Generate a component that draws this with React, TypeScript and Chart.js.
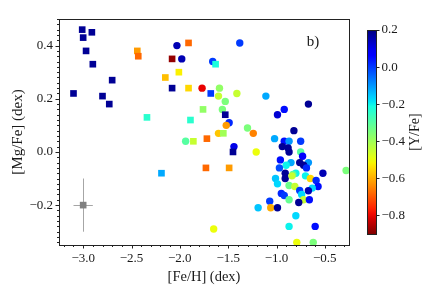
import React, { useEffect, useRef } from 'react';
import { Chart, registerables } from 'chart.js';
Chart.register(...registerables);

// ---- data: squares (one sample) ----
const squareFeH = [-3.01, -2.91, -3.0, -2.97, -2.9, -2.7, -3.1, -2.8, -2.73, -2.44, -2.43, -1.91, -2.08, -1.63, -2.01, -2.15, -2.08, -1.91, -1.68, -1.76, -1.53, -2.34, -1.89, -1.55, -1.72, -1.86, -1.45, -1.73, -1.49, -2.19];
const squareMgFe = [0.46, 0.45, 0.43, 0.38, 0.33, 0.27, 0.22, 0.21, 0.18, 0.38, 0.36, 0.41, 0.35, 0.33, 0.3, 0.28, 0.24, 0.24, 0.22, 0.16, 0.14, 0.13, 0.12, 0.07, 0.05, 0.04, 0.0, -0.06, -0.06, -0.08];
const squareYFe = [0.18, 0.18, 0.18, 0.18, 0.18, 0.18, 0.18, 0.18, 0.18, -0.62, -0.68, -0.68, -0.88, -0.22, -0.52, -0.58, 0.18, -0.55, 0.0, -0.38, 0.18, -0.24, -0.24, -0.4, -0.68, -0.45, 0.18, -0.68, -0.62, -0.12];

// ---- data: circles (other sample) ----
const circleFeH = [-2.03, -1.98, -1.66, -1.38, -1.77, -1.59, -1.6, -1.53, -1.41, -1.56, -1.49, -1.52, -1.6, -1.3, -1.94, -1.44, -1.65, -1.11, -1.24, -0.92, -0.99, -0.67, -0.82, -1.21, -1.02, -0.92, -0.87, -0.75, -0.94, -0.88, -0.87, -0.75, -0.73, -0.96, -0.85, -0.76, -0.67, -0.72, -0.9, -0.91, -0.97, -0.69, -0.91, -0.8, -0.83, -0.84, -0.7, -0.52, -0.65, -1.01, -0.99, -0.59, -0.87, -0.81, -0.57, -0.63, -0.76, -0.67, -0.95, -0.92, -0.74, -0.72, -0.66, -0.87, -0.77, -1.07, -1.19, -1.06, -0.99, -0.8, -0.87, -0.6, -0.79, -0.62, -0.28];
const circleMgFe = [0.4, 0.35, 0.34, 0.41, 0.24, 0.24, 0.21, 0.19, 0.22, 0.16, 0.11, 0.1, 0.07, 0.09, 0.04, 0.02, -0.29, 0.21, 0.07, 0.16, 0.14, 0.18, 0.08, 0.0, 0.05, 0.04, 0.04, 0.04, 0.02, 0.015, 0.0, 0.0, -0.016, -0.03, -0.04, -0.04, -0.04, -0.05, -0.05, -0.08, -0.06, -0.06, -0.1, -0.08, -0.085, -0.09, -0.09, -0.08, -0.1, -0.1, -0.12, -0.107, -0.126, -0.13, -0.13, -0.136, -0.145, -0.146, -0.156, -0.164, -0.16, -0.18, -0.18, -0.18, -0.19, -0.185, -0.21, -0.21, -0.21, -0.24, -0.28, -0.28, -0.34, -0.34, -0.07];
const circleYFe = [0.15, 0.15, 0.0, 0.0, -0.8, -0.38, -0.45, -0.35, -0.45, -0.35, 0.02, -0.62, -0.57, -0.35, -0.3, 0.1, -0.5, -0.12, -0.65, 0.05, 0.12, 0.18, 0.18, -0.5, -0.12, 0.05, -0.1, 0.0, 0.18, 0.18, 0.18, -0.3, 0.08, 0.05, -0.12, 0.18, -0.1, 0.18, -0.2, 0.18, -0.02, 0.02, 0.18, -0.2, -0.3, -0.45, -0.2, 0.15, -0.55, -0.15, -0.17, 0.02, -0.33, -0.45, 0.05, -0.17, 0.0, 0.15, 0.02, 0.0, -0.17, -0.45, 0.05, -0.32, 0.18, 0.0, -0.15, -0.6, 0.18, -0.17, -0.2, 0.05, -0.5, -0.35, -0.35];

// ---- typical error bar ----
const errFeH = [-3.0];
const errMgFe = [-0.2];
const errX = [0.1];
const errY = [0.1];

// ---- ticks ----
const xTicks = [-3.0, -2.5, -2.0, -1.5, -1.0, -0.5];
const yTicks = [-0.2, 0.0, 0.2, 0.4];
const cbTicks = [0.2, 0.0, -0.2, -0.4, -0.6, -0.8];
const cbMin = -0.9;
const cbMax = 0.2;

const FONT = "'Liberation Serif', 'DejaVu Serif', serif";
const TXT = '#1a1a1a';

const JR = [[0, 0], [0.35, 0], [0.66, 1], [0.89, 1], [1, 0.5]];
const JG = [[0, 0], [0.125, 0], [0.375, 1], [0.64, 1], [0.91, 0], [1, 0]];
const JB = [[0, 0.5], [0.11, 1], [0.34, 1], [0.65, 0], [1, 0]];
function seg(p: number[][], t: number) {
  for (let i = 1; i < p.length; i++) {
    if (t <= p[i][0]) {
      const [x0, y0] = p[i - 1];
      const [x1, y1] = p[i];
      return y0 + ((t - x0) / (x1 - x0)) * (y1 - y0);
    }
  }
  return p[p.length - 1][1];
}
function jet(t: number) {
  const c = Math.max(0, Math.min(1, t));
  const r = Math.round(seg(JR, c) * 255);
  const g = Math.round(seg(JG, c) * 255);
  const b = Math.round(seg(JB, c) * 255);
  return `rgb(${r},${g},${b})`;
}
// reversed jet: high [Y/Fe] -> dark blue, low -> dark red
function colorFor(v: number) {
  return jet((cbMax - v) / (cbMax - cbMin));
}
function fmt(v: number) {
  const s = Math.abs(v).toFixed(1);
  return v < -1e-9 ? '\u2212' + s : s;
}

const frameTicksPlugin = {
  id: 'frameTicks',
  afterDraw(chart: any) {
    const { ctx, chartArea: a } = chart;
    const xs = chart.scales.x;
    const ys = chart.scales.y;
    ctx.save();
    ctx.strokeStyle = '#222';
    ctx.lineWidth = 1;
    ctx.strokeRect(Math.round(a.left) + 0.5, Math.round(a.top) + 0.5, Math.round(a.right - a.left), Math.round(a.bottom - a.top));
    ctx.beginPath();
    // x ticks
    for (let v = -3.2; v <= -0.25 + 1e-9; v += 0.1) {
      const vv = Math.round(v * 10) / 10;
      const major = xTicks.some((t) => Math.abs(t - vv) < 1e-6);
      const px = Math.round(xs.getPixelForValue(vv)) + 0.5;
      ctx.moveTo(px, a.bottom);
      ctx.lineTo(px, a.bottom + (major ? 3.5 : 2));
    }
    // y ticks
    for (let k = -17; k <= 25; k++) {
      const vv = k * 0.02;
      if (vv < -0.35 || vv > 0.5) continue;
      const major = yTicks.some((t) => Math.abs(t - vv) < 1e-6);
      const py = Math.round(ys.getPixelForValue(vv)) + 0.5;
      ctx.moveTo(a.left, py);
      ctx.lineTo(a.left - (major ? 3.5 : 2), py);
    }
    ctx.stroke();

    ctx.fillStyle = TXT;
    ctx.textAlign = 'center';
    ctx.textBaseline = 'middle';
    ctx.font = `14.5px ${FONT}`;
    ctx.fillText('[Fe/H] (dex)', (a.left + a.right) / 2, 277);
    ctx.save();
    ctx.font = `15px ${FONT}`;
    ctx.translate(18, (a.top + a.bottom) / 2);
    ctx.rotate(-Math.PI / 2);
    ctx.fillText('[Mg/Fe] (dex)', 0, 0);
    ctx.restore();
    ctx.font = `15px ${FONT}`;
    ctx.fillText('b)', 313, 42);
    ctx.restore();
  },
};

const errorBarPlugin = {
  id: 'errBars',
  beforeDatasetsDraw(chart: any) {
    const { ctx } = chart;
    const xs = chart.scales.x;
    const ys = chart.scales.y;
    ctx.save();
    ctx.strokeStyle = '#a6a6a6';
    ctx.lineWidth = 1;
    ctx.beginPath();
    for (let i = 0; i < errFeH.length; i++) {
      const cx = xs.getPixelForValue(errFeH[i]);
      const cy = ys.getPixelForValue(errMgFe[i]);
      ctx.moveTo(xs.getPixelForValue(errFeH[i] - errX[i]), Math.round(cy) + 0.5);
      ctx.lineTo(xs.getPixelForValue(errFeH[i] + errX[i]), Math.round(cy) + 0.5);
      ctx.moveTo(Math.round(cx) + 0.5, ys.getPixelForValue(errMgFe[i] - errY[i]));
      ctx.lineTo(Math.round(cx) + 0.5, ys.getPixelForValue(errMgFe[i] + errY[i]));
    }
    ctx.stroke();
    ctx.restore();
  },
};

const gradientPlugin = {
  id: 'cbGradient',
  beforeDraw(chart: any) {
    const { ctx, chartArea: a } = chart;
    const g = ctx.createLinearGradient(0, a.top, 0, a.bottom);
    for (let i = 0; i <= 40; i++) {
      g.addColorStop(i / 40, jet(i / 40));
    }
    ctx.save();
    ctx.fillStyle = g;
    ctx.fillRect(a.left, a.top, a.right - a.left, a.bottom - a.top);
    ctx.restore();
  },
  afterDraw(chart: any) {
    const { ctx, chartArea: a } = chart;
    ctx.save();
    ctx.strokeStyle = '#222';
    ctx.lineWidth = 1;
    ctx.strokeRect(Math.round(a.left) + 0.5, Math.round(a.top) + 0.5, Math.round(a.right - a.left), Math.round(a.bottom - a.top));
    ctx.fillStyle = TXT;
    ctx.font = `14px ${FONT}`;
    ctx.textAlign = 'center';
    ctx.textBaseline = 'middle';
    ctx.translate(415, 132);
    ctx.rotate(-Math.PI / 2);
    ctx.fillText('[Y/Fe]', 0, 0);
    ctx.restore();
  },
};

export default function App() {
  const mainRef = useRef<HTMLCanvasElement>(null);
  const cbRef = useRef<HTMLCanvasElement>(null);

  useEffect(() => {
    const tickFont = { family: FONT, size: 13 };
    const squares = squareFeH.map((x, i) => ({ x, y: squareMgFe[i] }));
    const circles = circleFeH.map((x, i) => ({ x, y: circleMgFe[i] }));
    const errPts = errFeH.map((x, i) => ({ x, y: errMgFe[i] }));

    const main = new Chart(mainRef.current as HTMLCanvasElement, {
      type: 'scatter',
      data: {
        datasets: [
          {
            data: squares,
            pointStyle: 'rect',
            pointRadius: 4.7,
            pointHoverRadius: 4.7,
            backgroundColor: squareYFe.map(colorFor),
            borderWidth: 0,
          },
          {
            data: circles,
            pointStyle: 'circle',
            pointRadius: 3.7,
            pointHoverRadius: 3.7,
            backgroundColor: circleYFe.map(colorFor),
            borderWidth: 0,
          },
          {
            data: errPts,
            pointStyle: 'rect',
            pointRadius: 4.7,
            pointHoverRadius: 4.7,
            backgroundColor: '#808080',
            borderWidth: 0,
          },
        ],
      },
      options: {
        animation: false,
        responsive: false,
        maintainAspectRatio: false,
        events: [],
        layout: { padding: { left: 0, top: 19, right: 87, bottom: 0 } },
        plugins: { legend: { display: false }, tooltip: { enabled: false } },
        scales: {
          x: {
            type: 'linear',
            min: -3.25,
            max: -0.25,
            grid: { display: false, drawTicks: false },
            border: { display: false },
            afterBuildTicks: (s: any) => {
              s.ticks = xTicks.map((v) => ({ value: v }));
            },
            afterFit: (s: any) => {
              s.height = 55;
            },
            ticks: {
              callback: (v: any) => fmt(Number(v)),
              font: tickFont,
              color: TXT,
              padding: 6,
              maxRotation: 0,
              autoSkip: false,
            },
          },
          y: {
            type: 'linear',
            min: -0.35,
            max: 0.5,
            grid: { display: false, drawTicks: false },
            border: { display: false },
            afterBuildTicks: (s: any) => {
              s.ticks = yTicks.map((v) => ({ value: v }));
            },
            afterFit: (s: any) => {
              s.width = 59;
            },
            ticks: {
              callback: (v: any) => fmt(Number(v)),
              font: tickFont,
              color: TXT,
              padding: 6,
              autoSkip: false,
            },
          },
        },
      },
      plugins: [errorBarPlugin, frameTicksPlugin],
    } as any);

    const cb = new Chart(cbRef.current as HTMLCanvasElement, {
      type: 'scatter',
      data: { datasets: [] },
      options: {
        animation: false,
        responsive: false,
        maintainAspectRatio: false,
        events: [],
        layout: { padding: { left: 367, top: 30, right: 0, bottom: 66 } },
        plugins: { legend: { display: false }, tooltip: { enabled: false } },
        scales: {
          x: { type: 'linear', display: false, min: 0, max: 1 },
          y: {
            type: 'linear',
            position: 'right',
            min: cbMin,
            max: cbMax,
            grid: { display: true, drawOnChartArea: false, drawTicks: true, tickLength: 3.5, color: '#222', lineWidth: 1 },
            border: { display: false },
            afterBuildTicks: (s: any) => {
              s.ticks = cbTicks.map((v) => ({ value: v }));
            },
            afterFit: (s: any) => {
              s.width = 60;
            },
            ticks: {
              callback: (v: any) => fmt(Number(v)),
              font: tickFont,
              color: TXT,
              padding: 2,
              autoSkip: false,
            },
          },
        },
      },
      plugins: [gradientPlugin],
    } as any);

    return () => {
      main.destroy();
      cb.destroy();
    };
  }, []);

  return (
    <div style={{ position: 'absolute', left: 0, top: 0, width: 436, height: 300, background: '#fff' }}>
      <canvas ref={mainRef} width={436} height={300} style={{ position: 'absolute', left: 0, top: 0 }} />
      <canvas ref={cbRef} width={436} height={300} style={{ position: 'absolute', left: 0, top: 0 }} />
    </div>
  );
}
